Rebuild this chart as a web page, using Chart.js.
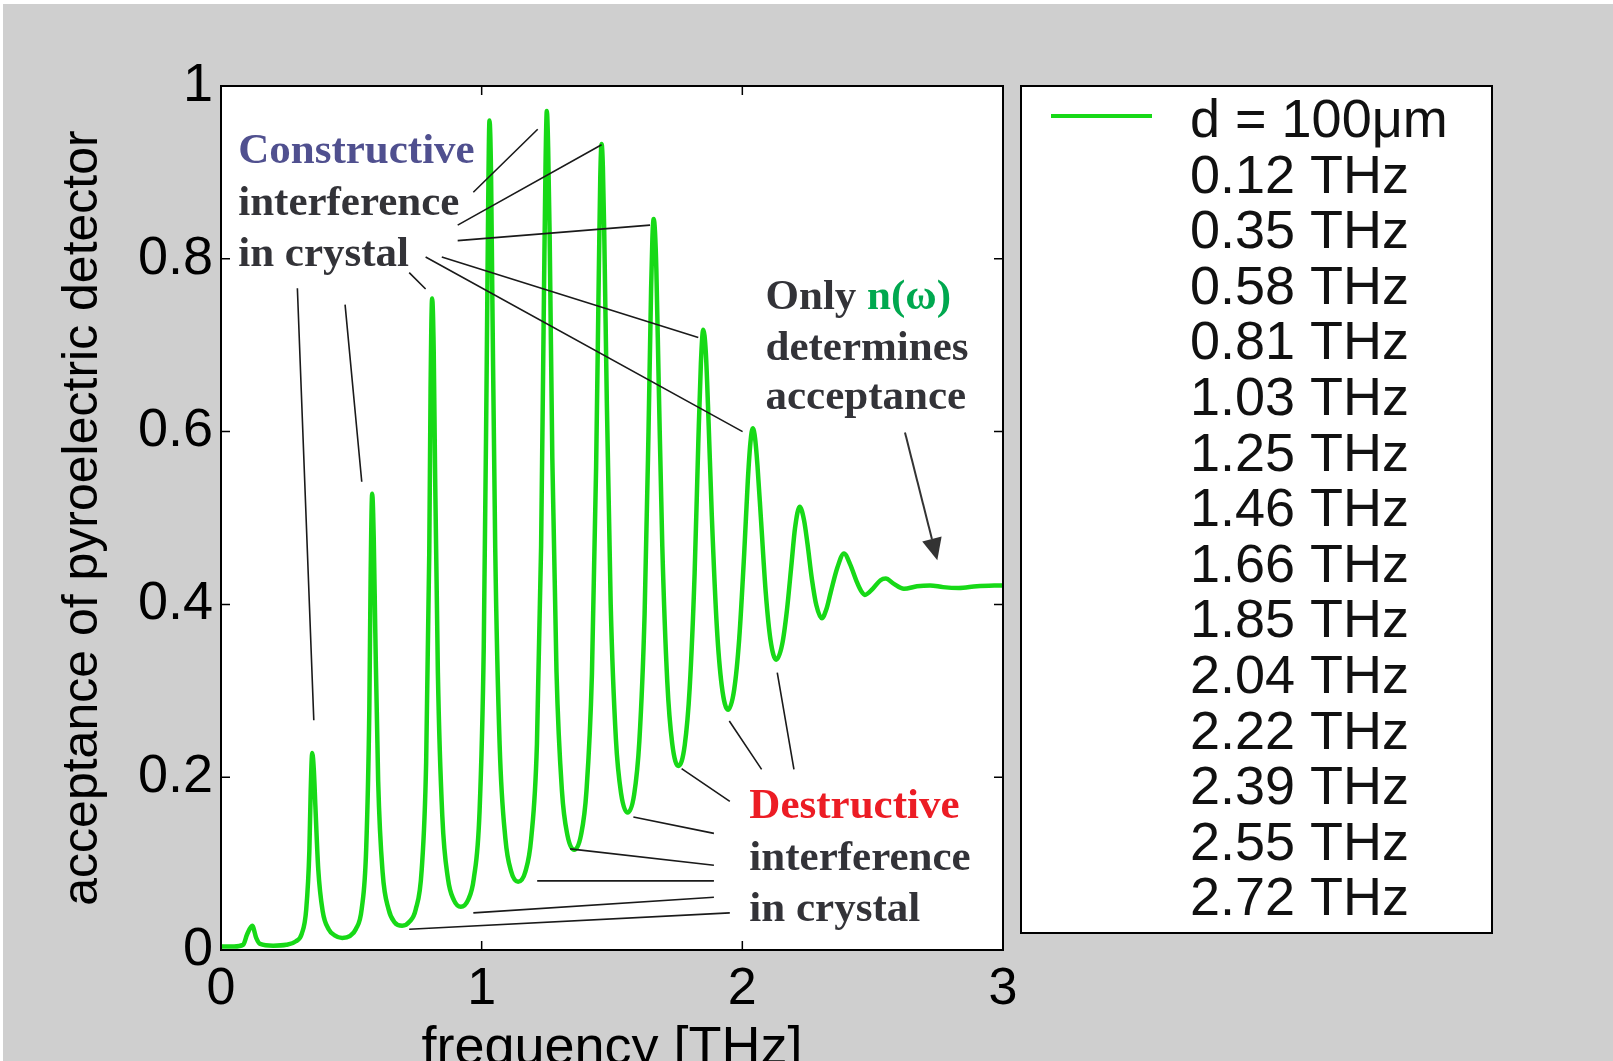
<!DOCTYPE html>
<html>
<head>
<meta charset="utf-8">
<script src="https://cdn.jsdelivr.net/npm/chart.js@4.4.0/dist/chart.umd.min.js"></script>
<style>
  html, body { margin: 0; padding: 0; background: #fff; }
  #bg { position: absolute; left: 3px; top: 4px; width: 1610px; height: 1057px; background: #cfcfcf; }
  #myChart { position: absolute; left: 0; top: 0; }
</style>
</head>
<body>
<div id="bg"></div>
<canvas id="myChart" width="1613" height="1061"></canvas>
<script>
// acceptance of the pyroelectric detector vs frequency, d = 100 um crystal
const freq = [
  0.000, 0.050, 0.085, 0.100, 0.120, 0.135, 0.150, 0.200, 0.250, 0.287, 0.310, 0.327, 0.339, 0.344,
  0.350, 0.356, 0.362, 0.373, 0.390, 0.413, 0.436, 0.465,
  0.494, 0.517, 0.540, 0.557, 0.569, 0.574, 0.580, 0.586, 0.592, 0.603, 0.620, 0.643, 0.666, 0.695,
  0.724, 0.747, 0.770, 0.787, 0.799, 0.804, 0.810, 0.816, 0.821, 0.832, 0.849, 0.871, 0.893, 0.920,
  0.948, 0.970, 0.992, 1.008, 1.019, 1.025, 1.030, 1.036, 1.041, 1.052, 1.069, 1.091, 1.113, 1.140,
  1.168, 1.190, 1.212, 1.228, 1.239, 1.245, 1.250, 1.255, 1.261, 1.271, 1.287, 1.308, 1.329, 1.355,
  1.381, 1.402, 1.423, 1.439, 1.450, 1.455, 1.460, 1.465, 1.470, 1.480, 1.495, 1.515, 1.535, 1.560,
  1.585, 1.605, 1.625, 1.640, 1.650, 1.655, 1.660, 1.665, 1.670, 1.679, 1.693, 1.712, 1.731, 1.755,
  1.779, 1.798, 1.817, 1.831, 1.841, 1.850, 1.860, 1.869, 1.883, 1.902, 1.921, 1.945,
  1.969, 1.988, 2.007, 2.021, 2.031, 2.040, 2.049, 2.058, 2.072, 2.090, 2.108, 2.130,
  2.153, 2.171, 2.189, 2.202, 2.220, 2.237, 2.250, 2.267, 2.284, 2.305,
  2.322, 2.339, 2.365, 2.390, 2.414, 2.438, 2.455, 2.470,
  2.500, 2.530, 2.550, 2.580, 2.620, 2.670, 2.720, 2.770, 2.830, 2.900, 3.000
];
const acceptance = [
  0.004, 0.004, 0.006, 0.018, 0.028, 0.014, 0.007, 0.005, 0.006, 0.010, 0.019, 0.047, 0.115, 0.183,
  0.228, 0.209, 0.167, 0.094, 0.045, 0.024, 0.017, 0.014,
  0.016, 0.024, 0.048, 0.117, 0.278, 0.431, 0.528, 0.476, 0.367, 0.195, 0.090, 0.047, 0.032, 0.028,
  0.033, 0.047, 0.093, 0.217, 0.461, 0.650, 0.754, 0.694, 0.561, 0.321, 0.155, 0.082, 0.058, 0.050,
  0.058, 0.083, 0.161, 0.351, 0.664, 0.863, 0.960, 0.898, 0.754, 0.465, 0.237, 0.129, 0.091, 0.079,
  0.091, 0.129, 0.238, 0.467, 0.760, 0.908, 0.971, 0.929, 0.823, 0.570, 0.323, 0.184, 0.133, 0.116,
  0.133, 0.184, 0.319, 0.558, 0.796, 0.894, 0.933, 0.906, 0.834, 0.637, 0.400, 0.244, 0.181, 0.159,
  0.180, 0.242, 0.388, 0.599, 0.765, 0.824, 0.846, 0.831, 0.789, 0.659, 0.467, 0.311, 0.239, 0.213,
  0.237, 0.303, 0.436, 0.586, 0.679, 0.718, 0.691, 0.624, 0.502, 0.375, 0.306, 0.278,
  0.302, 0.360, 0.458, 0.543, 0.587, 0.604, 0.592, 0.561, 0.496, 0.413, 0.359, 0.336,
  0.354, 0.393, 0.448, 0.488, 0.513, 0.497, 0.470, 0.429, 0.399, 0.384,
  0.394, 0.414, 0.443, 0.459, 0.446, 0.427, 0.416, 0.411,
  0.418, 0.428, 0.430, 0.424, 0.418, 0.421, 0.422, 0.420, 0.419, 0.421, 0.422
];

// transmission maxima listed in the legend box
const peakFreqs = ['0.12', '0.35', '0.58', '0.81', '1.03', '1.25', '1.46', '1.66',
                   '1.85', '2.04', '2.22', '2.39', '2.55', '2.72'];

// leader lines [x1, y1, x2, y2] in data units (THz, acceptance)
const peakLeaders = [
  [0.968, 0.877, 1.215, 0.950],
  [0.908, 0.839, 1.460, 0.932],
  [0.908, 0.821, 1.646, 0.839],
  [0.847, 0.802, 1.831, 0.709],
  [0.785, 0.802, 2.001, 0.600],
  [0.722, 0.784, 0.785, 0.765],
  [0.293, 0.766, 0.356, 0.266],
  [0.476, 0.747, 0.540, 0.542]
];
const valleyLeaders = [
  [1.767, 0.210, 1.952, 0.172],
  [1.950, 0.265, 2.074, 0.209],
  [2.134, 0.321, 2.198, 0.209],
  [1.582, 0.154, 1.891, 0.135],
  [1.339, 0.117, 1.891, 0.098],
  [1.213, 0.080, 1.891, 0.080],
  [0.968, 0.043, 1.891, 0.061],
  [0.722, 0.024, 1.952, 0.043]
];
const flatArrow = [2.624, 0.599, 2.748, 0.451];

// text blocks: x and baselines in data units
const constructiveText = { x: 0.066, y: [0.911, 0.851, 0.792], lines: ['Constructive', 'interference', 'in crystal'] };
const onlyText = { x: 2.089, y: [0.7415, 0.683, 0.626], lines: ['Only ', 'determines', 'acceptance'] };
const destructiveText = { x: 2.027, y: [0.1524, 0.0926, 0.0339], lines: ['Destructive', 'interference', 'in crystal'] };

const sans = '"Liberation Sans", Arial, Helvetica, sans-serif';
const serifBold = 'bold 43px "Liberation Serif", "Times New Roman", serif';
const lineGreen = '#17d917';
const darkText = '#333338';

const plotFrame = {
  id: 'plotFrame',
  beforeDatasetsDraw(chart) {
    const { ctx, chartArea: a } = chart;
    ctx.save();
    ctx.fillStyle = '#fff';
    ctx.fillRect(a.left, a.top, a.width, a.height);
    ctx.restore();
  },
  afterDatasetsDraw(chart) {
    const { ctx, chartArea: a, scales } = chart;
    ctx.save();
    ctx.strokeStyle = '#000';
    ctx.lineWidth = 2;
    ctx.strokeRect(a.left, a.top, a.width, a.height);
    ctx.lineWidth = 1.5;
    ctx.beginPath();
    scales.x.ticks.forEach(t => {
      const px = scales.x.getPixelForValue(t.value);
      ctx.moveTo(px, a.bottom); ctx.lineTo(px, a.bottom - 9);
      ctx.moveTo(px, a.top); ctx.lineTo(px, a.top + 9);
    });
    scales.y.ticks.forEach(t => {
      const py = scales.y.getPixelForValue(t.value);
      ctx.moveTo(a.left, py); ctx.lineTo(a.left + 9, py);
      ctx.moveTo(a.right, py); ctx.lineTo(a.right - 9, py);
    });
    ctx.stroke();
    ctx.restore();
  }
};

const annotations = {
  id: 'annotations',
  afterDatasetsDraw(chart) {
    const { ctx, scales: { x, y } } = chart;
    ctx.save();
    ctx.strokeStyle = '#1a1a1a';
    ctx.lineWidth = 1.6;
    ctx.beginPath();
    [...peakLeaders, ...valleyLeaders].forEach(l => {
      ctx.moveTo(x.getPixelForValue(l[0]), y.getPixelForValue(l[1]));
      ctx.lineTo(x.getPixelForValue(l[2]), y.getPixelForValue(l[3]));
    });
    ctx.stroke();

    // arrow to the flat tail
    const x1 = x.getPixelForValue(flatArrow[0]), y1 = y.getPixelForValue(flatArrow[1]);
    const x2 = x.getPixelForValue(flatArrow[2]), y2 = y.getPixelForValue(flatArrow[3]);
    const ang = Math.atan2(y2 - y1, x2 - x1);
    const hl = 22, hw = 10;
    ctx.strokeStyle = '#333';
    ctx.lineWidth = 2;
    ctx.beginPath();
    ctx.moveTo(x1, y1);
    ctx.lineTo(x2 - hl * Math.cos(ang), y2 - hl * Math.sin(ang));
    ctx.stroke();
    ctx.fillStyle = '#333';
    ctx.beginPath();
    ctx.moveTo(x2, y2);
    ctx.lineTo(x2 - hl * Math.cos(ang) + hw * Math.sin(ang), y2 - hl * Math.sin(ang) - hw * Math.cos(ang));
    ctx.lineTo(x2 - hl * Math.cos(ang) - hw * Math.sin(ang), y2 - hl * Math.sin(ang) + hw * Math.cos(ang));
    ctx.closePath();
    ctx.fill();

    ctx.font = serifBold;
    ctx.textBaseline = 'alphabetic';
    ctx.textAlign = 'left';
    const block = (b, colors) => {
      b.lines.forEach((t, i) => {
        ctx.fillStyle = colors[i];
        ctx.fillText(t, x.getPixelForValue(b.x), y.getPixelForValue(b.y[i]));
      });
    };
    block(constructiveText, ['#50508f', darkText, darkText]);
    block(destructiveText, ['#ec1c24', darkText, darkText]);
    block(onlyText, [darkText, darkText, darkText]);
    const ox = x.getPixelForValue(onlyText.x) + ctx.measureText(onlyText.lines[0]).width;
    ctx.fillStyle = '#00a84f';
    ctx.fillText('n(ω)', ox, y.getPixelForValue(onlyText.y[0]));
    ctx.restore();
  }
};

const sideLegend = {
  id: 'sideLegend',
  afterDraw(chart) {
    const { ctx, chartArea: a } = chart;
    const ds = chart.data.datasets[0];
    const left = a.right + 18, top = a.top, w = 471, h = 847;
    ctx.save();
    ctx.fillStyle = '#fff';
    ctx.fillRect(left, top, w, h);
    ctx.strokeStyle = '#000';
    ctx.lineWidth = 2;
    ctx.strokeRect(left, top, w, h);
    ctx.strokeStyle = ds.borderColor;
    ctx.lineWidth = 4;
    ctx.beginPath();
    ctx.moveTo(left + 30, top + 30);
    ctx.lineTo(left + 131, top + 30);
    ctx.stroke();
    ctx.fillStyle = '#111';
    ctx.font = '54px ' + sans;
    ctx.textBaseline = 'alphabetic';
    [ds.label, ...peakFreqs.map(f => f + ' THz')].forEach((t, i) => {
      ctx.fillText(t, left + 169, top + 51 + i * 55.6);
    });
    ctx.restore();
  }
};

const points = freq.map((f, i) => ({ x: f, y: acceptance[i] }));

new Chart(document.getElementById('myChart'), {
  type: 'line',
  data: {
    datasets: [{
      label: 'd = 100μm',
      data: points,
      borderColor: lineGreen,
      borderWidth: 4.5,
      pointRadius: 0,
      fill: false,
      cubicInterpolationMode: 'monotone'
    }]
  },
  options: {
    responsive: false,
    animation: false,
    layout: { padding: { left: 0, top: 86, right: 610, bottom: 0 } },
    plugins: { legend: { display: false }, tooltip: { enabled: false } },
    scales: {
      x: {
        type: 'linear',
        min: 0,
        max: 3,
        ticks: { stepSize: 1, padding: 8, maxRotation: 0, color: '#000', font: { family: sans, size: 52 } },
        grid: { display: false, drawTicks: false },
        border: { display: false },
        title: {
          display: true,
          text: 'frequency [THz]',
          color: '#000',
          font: { family: sans, size: 54 },
          padding: { top: 0, bottom: -21 }
        },
        afterFit: s => { s.height = 111; }
      },
      y: {
        type: 'linear',
        min: 0,
        max: 1,
        ticks: {
          stepSize: 0.2,
          padding: 8,
          color: '#000',
          font: { family: sans, size: 54 },
          callback: v => String(Number(v.toFixed(1)))
        },
        grid: { display: false, drawTicks: false },
        border: { display: false },
        title: {
          display: true,
          text: 'acceptance of pyroelectric detector',
          color: '#000',
          font: { family: sans, size: 50 },
          padding: { top: 53, bottom: 0 }
        },
        afterFit: s => { s.width = 221; }
      }
    }
  },
  plugins: [plotFrame, annotations, sideLegend]
});
</script>
</body>
</html>
